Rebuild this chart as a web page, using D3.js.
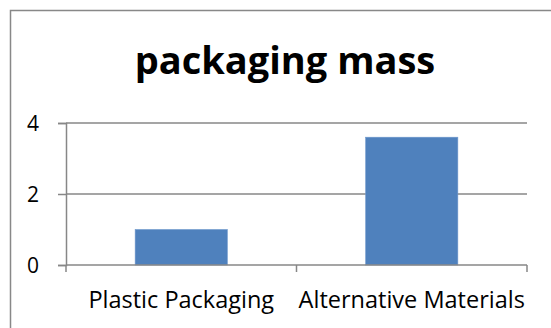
<!DOCTYPE html>
<html>
<head>
<meta charset="utf-8">
<script src="https://cdn.jsdelivr.net/npm/d3@7"></script>
<style>
  body { margin: 0; background: #fff; }
  svg { display: block; font-family: "Open Sans", Lato, sans-serif; }
</style>
</head>
<body>
<svg id="chart" width="551" height="328"></svg>
<script>
// values
let categories = ["Plastic Packaging", "Alternative Materials"];
let massValues = [1.0, 3.6];
let yTicks = [0, 2, 4];
let chartTitle = "packaging mass";

let svg = d3.select("#chart"),
    width = +svg.attr("width"),
    height = +svg.attr("height");

let plot = {left: 66, right: 527, top: 123, bottom: 265};

// outer chart frame (right and bottom edges sit outside the window)
svg.append("rect")
    .attr("x", 10.5).attr("y", 10.5)
    .attr("width", width + 20).attr("height", height + 20)
    .attr("fill", "none")
    .attr("stroke", "#888")
    .attr("stroke-width", 1.5);

svg.append("text")
    .attr("x", 285)
    .attr("y", 74)
    .attr("text-anchor", "middle")
    .attr("font-weight", "bold")
    .attr("font-size", 38)
    .attr("fill", "#000")
    .text(chartTitle);

let x = d3.scaleBand()
    .domain(categories)
    .range([plot.left, plot.right])
    .paddingInner(0.6)
    .paddingOuter(0.3);

let xOuter = d3.scaleBand()
    .domain(categories)
    .range([plot.left, plot.right]);

let y = d3.scaleLinear()
    .domain([0, 4])
    .range([plot.bottom, plot.top]);

// gridlines
svg.append("g")
    .selectAll("line")
    .data(yTicks.filter(d => d > 0))
    .enter()
    .append("line")
    .attr("x1", plot.left).attr("x2", plot.right)
    .attr("y1", d => y(d)).attr("y2", d => y(d))
    .attr("stroke", "#878787")
    .attr("stroke-width", 1.5);

// bars
svg.append("g")
    .selectAll("rect")
    .data(massValues)
    .enter()
    .append("rect")
    .attr("x", (d, i) => x(categories[i]))
    .attr("width", x.bandwidth())
    .attr("y", d => y(d))
    .attr("height", d => y(0) - y(d))
    .attr("fill", "#4F81BD")
    .attr("stroke", "#6f98cc")
    .attr("stroke-width", 0.6);

// y axis
let yAxis = d3.axisLeft(y)
    .tickValues(yTicks)
    .tickSize(8)
    .tickPadding(19)
    .tickFormat(d3.format("d"));

let yG = svg.append("g")
    .attr("transform", "translate(" + plot.left + ",0)")
    .call(yAxis);
yG.select(".domain").attr("stroke", "#878787").attr("stroke-width", 1.5);
yG.selectAll(".tick line").attr("stroke", "#878787").attr("stroke-width", 1.5);
yG.selectAll(".tick text")
    .attr("font-family", "'Open Sans', sans-serif")
    .attr("font-size", 21)
    .attr("fill", "#000")
    .attr("dy", "0.36em");

// x axis: ticks on category boundaries
let xG = svg.append("g")
    .attr("transform", "translate(0," + plot.bottom + ")");
xG.append("line")
    .attr("x1", plot.left).attr("x2", plot.right)
    .attr("stroke", "#878787").attr("stroke-width", 1.5);
xG.selectAll("line.tick")
    .data(categories.map(c => xOuter(c)).concat([plot.right]))
    .enter()
    .append("line")
    .attr("class", "tick")
    .attr("x1", d => d).attr("x2", d => d)
    .attr("y1", 0).attr("y2", 7)
    .attr("stroke", "#878787").attr("stroke-width", 1.5);
xG.selectAll("text")
    .data(categories)
    .enter()
    .append("text")
    .attr("x", d => xOuter(d) + xOuter.bandwidth() / 2)
    .attr("y", 43)
    .attr("text-anchor", "middle")
    .attr("font-size", 23.5)
    .attr("fill", "#000")
    .text(d => d);
</script>
</body>
</html>
